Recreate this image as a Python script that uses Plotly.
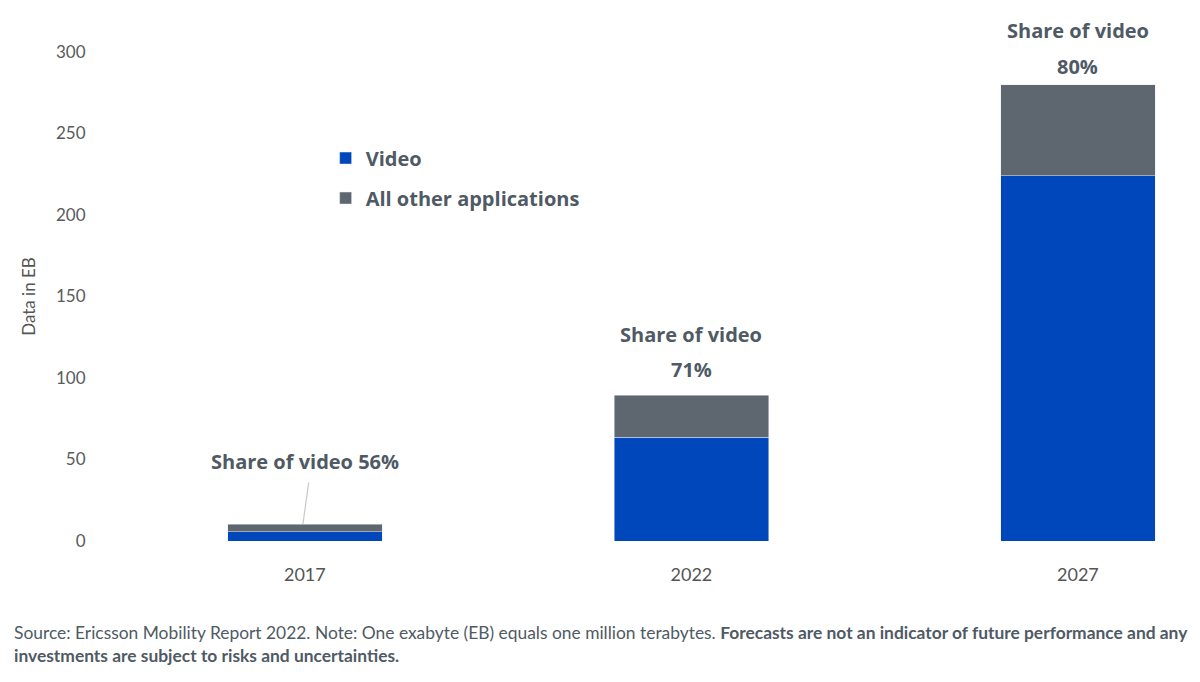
import plotly.graph_objects as go

# data (EB per month)
years = ["2017", "2022", "2027"]
video = [5.8, 63.5, 224]
other = [4.6, 26, 56]
share_video = [56, 71, 80]

azul = "#0047BB"
gris = "#5E6770"
texto = "#4F5A65"
fuente = "Lato"
fuente_b = "Open Sans"

fig = go.Figure()
fig.add_trace(go.Bar(x=years, y=video, name="<b>Video</b>", marker_color=azul,
                     width=0.4, legendgroup="a"))
fig.add_trace(go.Bar(x=years, y=other, name="<b>All other applications</b>", marker_color=gris,
                     width=0.4, legendgroup="b"))

totales = [v + o for v, o in zip(video, other)]
fnt = dict(size=20, color=texto, family=fuente_b)

# etiquetas de share of video (x por índice de categoría)
fig.add_annotation(x=0, y=49, text="<b>Share of video %d%%</b>" % share_video[0],
                   showarrow=False, font=fnt)
fig.add_shape(type="line", xref="x", yref="y", x0=0.01, y0=36, x1=-0.005, y1=totales[0],
              line=dict(color="#C8C8C8", width=1.2))
fig.add_annotation(x=1, y=126.5, text="<b>Share of video</b>", showarrow=False, font=fnt)
fig.add_annotation(x=1, y=105, text="<b>%d%%</b>" % share_video[1], showarrow=False, font=fnt)
fig.add_annotation(x=2, y=291, yshift=36, text="<b>Share of video</b>", showarrow=False, font=fnt)
fig.add_annotation(x=2, y=291, text="<b>%d%%</b>" % share_video[2], showarrow=False, font=fnt)

# nota al pie
fig.add_annotation(
    xref="paper", yref="paper", x=-0.081, y=-0.162, xanchor="left", yanchor="top", align="left",
    showarrow=False,
    text="Source: Ericsson Mobility Report 2022. Note: One exabyte (EB) equals one million terabytes. "
         "<b>Forecasts are not an indicator of future performance and any</b><br>"
         "<b>investments are subject to risks and uncertainties.</b>",
    font=dict(size=17.4, color=texto, family=fuente),
)

fig.update_layout(
    barmode="stack",
    width=1200, height=682,
    margin=dict(l=92, r=18, t=44, b=149),
    plot_bgcolor="white", paper_bgcolor="white",
    font=dict(family=fuente, color="#555"),
    showlegend=True,
    legend=dict(x=0.207, y=0.823, xanchor="left", yanchor="top",
                traceorder="grouped", tracegroupgap=11,
                font=dict(size=20, color=texto, family=fuente_b),
                itemwidth=30, bgcolor="rgba(0,0,0,0)"),
    xaxis=dict(type="category", range=[-0.53, 2.29], showgrid=False, showline=False,
               zeroline=False, tickfont=dict(size=18, color="#555"), ticks="outside",
               ticklen=17, tickcolor="rgba(0,0,0,0)"),
    yaxis=dict(range=[0, 300], dtick=50, showgrid=False, showline=False, zeroline=False,
               tickfont=dict(size=17, color="#5a5a5a"), ticks="outside", ticklen=10,
               tickcolor="rgba(0,0,0,0)",
               title=dict(text="Data in EB", font=dict(size=17, color="#555"), standoff=16)),
)

fig.write_html("out.html")
